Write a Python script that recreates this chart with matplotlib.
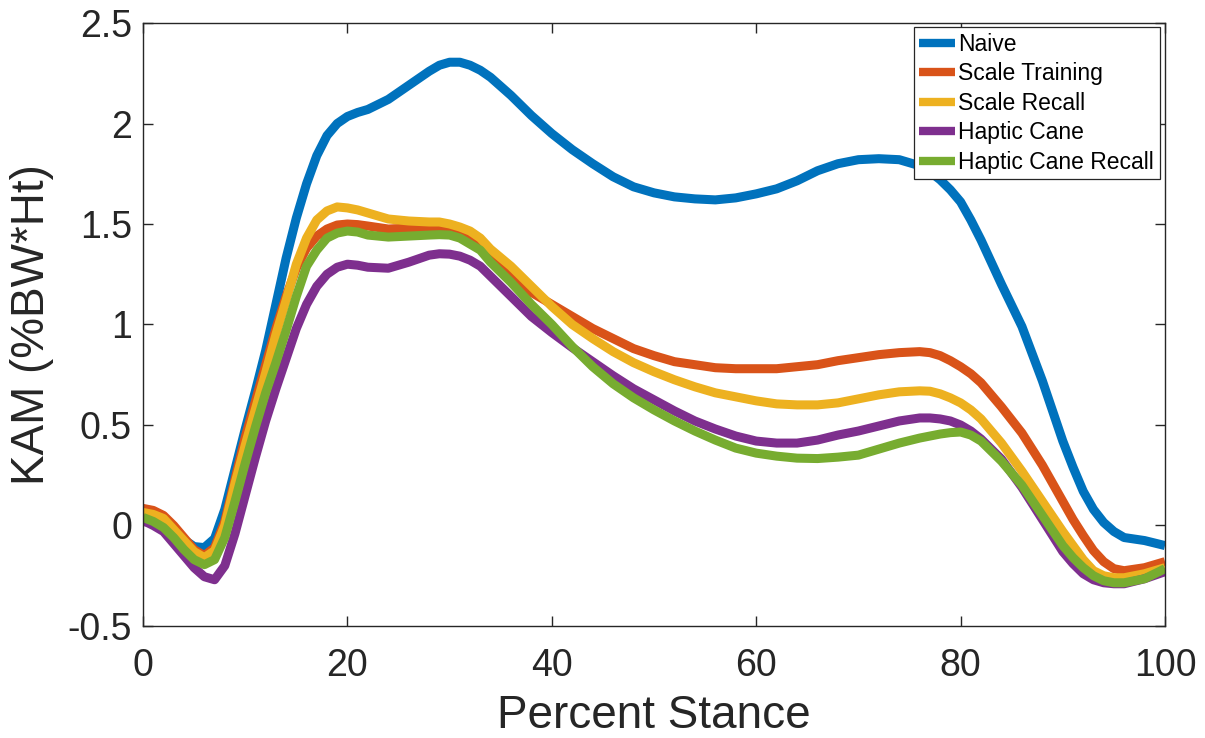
import numpy as np
import matplotlib
matplotlib.use("Agg")
import matplotlib.pyplot as plt
from matplotlib.ticker import FixedLocator, FixedFormatter

plt.rcParams['font.family'] = ['Liberation Sans', 'DejaVu Sans']

# values; denser where the curves bend
stance = (list(range(0, 23)) + [24, 26, 28, 29, 30, 31, 32, 33, 34, 36, 38]
          + list(range(40, 75, 2)) + [76, 77, 78, 79, 80, 81, 82, 84, 86, 88]
          + [90, 91, 92, 93, 94, 95, 96, 98, 100])

naive = ([0.075, 0.06, 0.03, -0.02, -0.07, -0.105, -0.11, -0.065, 0.08, 0.28,
          0.48, 0.67, 0.87, 1.10, 1.33, 1.53, 1.70, 1.84, 1.94, 2.00,
          2.035, 2.055, 2.07]
         + [2.12, 2.19, 2.26, 2.29, 2.305, 2.305, 2.29, 2.265, 2.23, 2.14, 2.04]
         + [1.95, 1.87, 1.80, 1.735, 1.685, 1.655, 1.635, 1.625, 1.62, 1.63,
            1.65, 1.675, 1.715, 1.765, 1.80, 1.82, 1.825, 1.82]
         + [1.79, 1.76, 1.72, 1.67, 1.61, 1.52, 1.42, 1.20, 0.99, 0.72]
         + [0.42, 0.29, 0.17, 0.08, 0.015, -0.03, -0.06, -0.075, -0.10])

scale_training = ([0.085, 0.075, 0.05, 0.0, -0.06, -0.12, -0.15, -0.11, 0.02, 0.23,
                   0.44, 0.62, 0.80, 0.98, 1.14, 1.28, 1.38, 1.44, 1.475, 1.495,
                   1.50, 1.497, 1.49]
                  + [1.475, 1.48, 1.48, 1.475, 1.465, 1.45, 1.42, 1.38, 1.33, 1.235, 1.16]
                  + [1.10, 1.04, 0.98, 0.93, 0.88, 0.845, 0.815, 0.80, 0.785, 0.78,
                     0.78, 0.78, 0.79, 0.80, 0.82, 0.835, 0.85, 0.86]
                  + [0.865, 0.86, 0.845, 0.82, 0.79, 0.755, 0.71, 0.59, 0.46, 0.30]
                  + [0.12, 0.03, -0.05, -0.125, -0.18, -0.215, -0.225, -0.21, -0.18])

scale_recall = ([0.065, 0.055, 0.035, -0.02, -0.075, -0.13, -0.16, -0.125, 0.0, 0.21,
                 0.40, 0.58, 0.76, 0.95, 1.12, 1.30, 1.43, 1.52, 1.565, 1.585,
                 1.58, 1.57, 1.555]
                + [1.525, 1.515, 1.51, 1.51, 1.50, 1.485, 1.465, 1.43, 1.375, 1.29, 1.19]
                + [1.09, 1.00, 0.93, 0.865, 0.81, 0.765, 0.725, 0.69, 0.66, 0.64,
                   0.62, 0.605, 0.60, 0.60, 0.61, 0.63, 0.65, 0.665]
                + [0.67, 0.668, 0.655, 0.635, 0.61, 0.575, 0.53, 0.41, 0.27, 0.12]
                + [-0.03, -0.10, -0.17, -0.225, -0.25, -0.26, -0.26, -0.24, -0.21])

haptic_cane = ([0.025, 0.0, -0.03, -0.09, -0.15, -0.21, -0.255, -0.27, -0.2, -0.04,
                0.15, 0.34, 0.52, 0.68, 0.83, 0.98, 1.10, 1.19, 1.25, 1.285,
                1.30, 1.295, 1.285]
               + [1.28, 1.31, 1.345, 1.352, 1.35, 1.34, 1.32, 1.29, 1.24, 1.14, 1.04]
               + [0.96, 0.885, 0.815, 0.745, 0.68, 0.625, 0.57, 0.52, 0.48, 0.445,
                  0.42, 0.41, 0.41, 0.425, 0.45, 0.47, 0.495, 0.52]
               + [0.535, 0.535, 0.53, 0.52, 0.50, 0.47, 0.43, 0.33, 0.19, 0.03]
               + [-0.13, -0.19, -0.24, -0.27, -0.285, -0.29, -0.29, -0.265, -0.23])

haptic_cane_recall = ([0.04, 0.02, -0.01, -0.06, -0.12, -0.17, -0.195, -0.17, -0.06, 0.12,
                       0.31, 0.49, 0.66, 0.81, 0.97, 1.14, 1.29, 1.37, 1.43, 1.455,
                       1.465, 1.46, 1.445]
                      + [1.435, 1.44, 1.445, 1.447, 1.445, 1.43, 1.40, 1.37, 1.31, 1.21, 1.10]
                      + [1.00, 0.89, 0.79, 0.705, 0.635, 0.575, 0.52, 0.47, 0.425, 0.385,
                         0.36, 0.345, 0.335, 0.333, 0.34, 0.35, 0.38, 0.41]
                      + [0.435, 0.445, 0.455, 0.462, 0.465, 0.45, 0.42, 0.32, 0.20, 0.05]
                      + [-0.10, -0.16, -0.21, -0.25, -0.275, -0.285, -0.285, -0.265, -0.215])

series_names = ['Naive', 'Scale Training', 'Scale Recall', 'Haptic Cane', 'Haptic Cane Recall']
series_colors = ['#0072BD', '#D95319', '#EDB120', '#7E2F8E', '#77AC30']

x_ticks = [0, 20, 40, 60, 80, 100]
y_ticks = [-0.5, 0, 0.5, 1, 1.5, 2, 2.5]
y_tick_labels = ['-0.5', '0', '0.5', '1', '1.5', '2', '2.5']

fig = plt.figure(figsize=(12.05, 7.38), dpi=100)
ax = fig.add_axes([0.1187, 0.1518, 0.8481, 0.8170])

all_series = [naive, scale_training, scale_recall, haptic_cane, haptic_cane_recall]
for vals, name, col in zip(all_series, series_names, series_colors):
    assert len(vals) == len(stance), name
    ax.plot(stance, vals, color=col, lw=6.5, label=name,
            solid_joinstyle='round', solid_capstyle='butt')

ax.set_xlim(0, 100)
ax.set_ylim(-0.5, 2.5)
ax.xaxis.set_major_locator(FixedLocator(x_ticks))
ax.yaxis.set_major_locator(FixedLocator(y_ticks))
ax.yaxis.set_major_formatter(FixedFormatter(y_tick_labels))

dark = '#262626'
for s in ax.spines.values():
    s.set_color(dark)
    s.set_linewidth(1.0)
ax.tick_params(direction='in', length=7, width=1.0, colors=dark,
               labelsize=27, top=True, right=True)
ax.tick_params(axis='x', pad=16)
ax.tick_params(axis='y', pad=8)

ax.set_xlabel('Percent Stance', fontsize=33, color=dark, labelpad=7)
ax.set_ylabel('KAM (%BW*Ht)', fontsize=33, color=dark, labelpad=10)

leg = ax.legend(loc='upper right', bbox_to_anchor=(0.995, 0.993), borderaxespad=0,
                fontsize=16.5, fancybox=False, framealpha=1, edgecolor=dark,
                handlelength=1.55, handletextpad=0.15, labelspacing=0.28,
                borderpad=0.25)
leg.get_frame().set_linewidth(0.9)
for line in leg.get_lines():
    line.set_linewidth(6)

fig.savefig('out.png', dpi=100)
